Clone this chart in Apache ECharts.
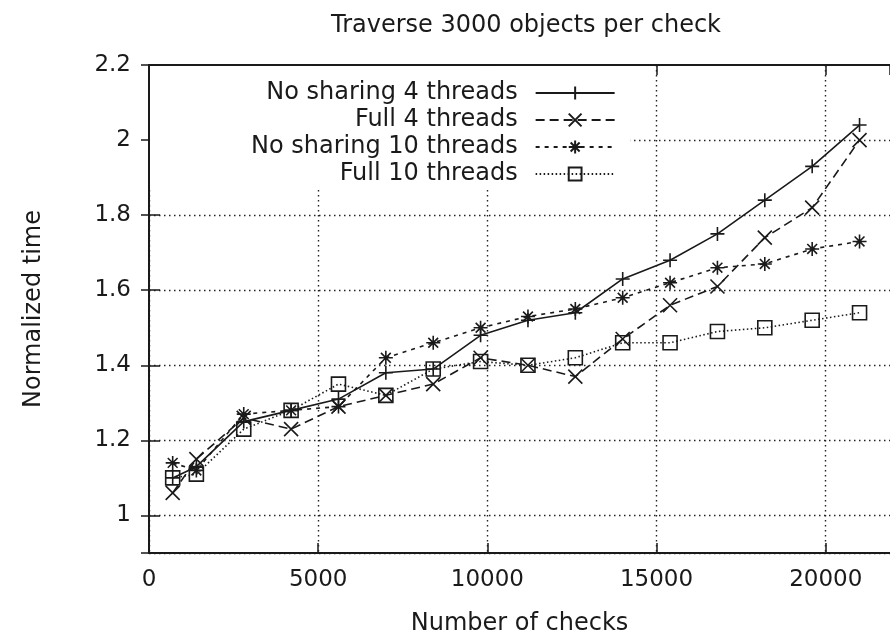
<!DOCTYPE html>
<html>
<head>
<meta charset="utf-8">
<script src="https://cdn.jsdelivr.net/npm/echarts@6/dist/echarts.min.js"></script>
<style>
  html, body { margin: 0; padding: 0; background: #fff; }
  #chart { width: 890px; height: 637px; }
</style>
</head>
<body>
<div id="chart"></div>
<script>
// number of checks (x)
const checks = [700, 1400, 2800, 4200, 5600, 7000, 8400, 9800, 11200, 12600, 14000, 15400, 16800, 18200, 19600, 21000]
// normalized time per series
const noShare4 = [1.10, 1.13, 1.25, 1.28, 1.31, 1.38, 1.39, 1.48, 1.52, 1.54, 1.63, 1.68, 1.75, 1.84, 1.93, 2.04]
const full4 = [1.06, 1.15, 1.26, 1.23, 1.29, 1.32, 1.35, 1.42, 1.40, 1.37, 1.47, 1.56, 1.61, 1.74, 1.82, 2.00]
const noShare10 = [1.14, 1.12, 1.27, 1.28, 1.29, 1.42, 1.46, 1.50, 1.53, 1.55, 1.58, 1.62, 1.66, 1.67, 1.71, 1.73]
const full10 = [1.10, 1.11, 1.23, 1.28, 1.35, 1.32, 1.39, 1.41, 1.40, 1.42, 1.46, 1.46, 1.49, 1.50, 1.52, 1.54]

const seriesNames = ['No sharing 4 threads', 'Full 4 threads', 'No sharing 10 threads', 'Full 10 threads']

const ink = '#1a1a1a'
const font = 'DejaVu Sans'

const symbols = {
  plus: 'path://M0,5L10,5M5,0L5,10',
  cross: 'path://M0,0L10,10M10,0L0,10',
  star: 'path://M0,5L10,5M5,0L5,10M1.5,1.5L8.5,8.5M8.5,1.5L1.5,8.5',
  box: 'path://M0,0L10,0L10,10L0,10Z'
}

function pairs(ys) {
  return checks.map((x, i) => [x, ys[i]])
}

function makeSeries(name, ys, symbol, dash) {
  return {
    name,
    type: 'line',
    data: pairs(ys),
    symbol,
    symbolSize: 14,
    showSymbol: true,
    itemStyle: { color: 'none', borderColor: ink, borderWidth: 1.6 },
    lineStyle: { color: ink, width: 1.6, type: dash },
    emphasis: { disabled: true },
    animation: false
  }
}

const chart = echarts.init(document.getElementById('chart'))

const gridLine = { show: true, showMaxLine: false, lineStyle: { color: '#222', width: 1.4, type: [1.5, 3.5] } }

chart.setOption({
  backgroundColor: '#fff',
  textStyle: { fontFamily: font },
  title: {
    text: 'Traverse 3000 objects per check',
    left: 326,
    top: 9,
    textStyle: { fontFamily: font, fontSize: 24, fontWeight: 'normal', color: ink }
  },
  legend: {
    orient: 'vertical',
    align: 'right',
    left: 150,
    top: 66,
    padding: [15, 15, 4, 101],
    backgroundColor: '#fff',
    itemWidth: 79,
    itemHeight: 16,
    itemGap: 3,
    selectedMode: false,
    data: seriesNames,
    textStyle: {
      fontFamily: font,
      fontSize: 24,
      color: ink,
      lineHeight: 20,
      padding: [0, 13, 0, 0]
    }
  },
  grid: { left: 149, right: 0, top: 65, bottom: 84, outerBoundsMode: 'none', containLabel: false },
  xAxis: [
    {
      type: 'value',
      min: 0,
      max: 21900,
      interval: 5000,
      name: 'Number of checks',
      nameLocation: 'middle',
      nameGap: 59,
      nameTextStyle: { fontFamily: font, fontSize: 24, color: ink },
      axisLine: { show: true, lineStyle: { color: ink, width: 2 } },
      axisTick: { show: true, inside: true, length: 10, lineStyle: { color: ink, width: 1.5 } },
      axisLabel: { fontFamily: font, fontSize: 23, color: ink, margin: 16, showMaxLabel: false, formatter: v => String(v) },
      splitLine: gridLine
    },
    {
      type: 'value',
      position: 'top',
      min: 0,
      max: 21900,
      interval: 5000,
      axisLine: { show: true, lineStyle: { color: ink, width: 2 } },
      axisTick: { show: true, inside: true, length: 10, lineStyle: { color: ink, width: 1.5 } },
      axisLabel: { show: false },
      splitLine: { show: false }
    }
  ],
  yAxis: [
    {
      type: 'value',
      min: 0.9,
      max: 2.2,
      splitNumber: 6,
      name: 'Normalized time',
      nameLocation: 'middle',
      nameGap: 103,
      nameTextStyle: { fontFamily: font, fontSize: 24, color: ink },
      axisLine: { show: true, lineStyle: { color: ink, width: 2 } },
      axisTick: { show: true, inside: true, length: 11, lineStyle: { color: ink, width: 1.5 } },
      axisLabel: { fontFamily: font, fontSize: 23, color: ink, margin: 18, showMinLabel: false },
      splitLine: gridLine
    },
    {
      type: 'value',
      position: 'right',
      min: 0.9,
      max: 2.2,
      splitNumber: 6,
      axisLine: { show: false },
      axisTick: { show: true, inside: true, length: 8, lineStyle: { color: ink, width: 1.5 } },
      axisLabel: { show: false },
      splitLine: { show: false }
    }
  ],
  series: [
    makeSeries(seriesNames[0], noShare4, symbols.plus, 'solid'),
    makeSeries(seriesNames[1], full4, symbols.cross, [9, 5]),
    makeSeries(seriesNames[2], noShare10, symbols.star, [4, 5]),
    makeSeries(seriesNames[3], full10, symbols.box, [1.5, 2.5])
  ]
})
</script>
</body>
</html>
